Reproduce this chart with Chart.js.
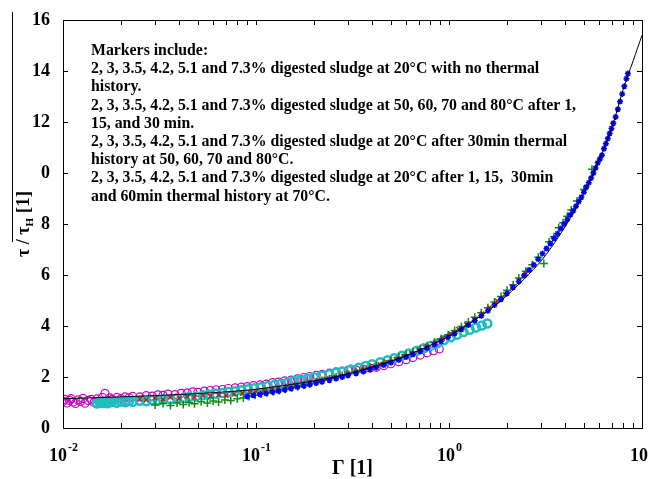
<!DOCTYPE html>
<html>
<head>
<meta charset="utf-8">
<script src="https://cdn.jsdelivr.net/npm/chart.js@4.4.0/dist/chart.umd.min.js"></script>
<style>
  html, body { margin: 0; padding: 0; background: #fff; }
  canvas { display: block; }
</style>
</head>
<body>
<canvas id="myChart" width="650" height="479"></canvas>
<script>
// fitted master curve
const fitGamma = [0.01, 0.02, 0.05, 0.1, 0.2, 0.3, 0.5, 0.7, 1, 1.5, 2, 3, 4, 5, 6, 7, 8, 9, 10];
const fitTau   = [1.15, 1.22, 1.35, 1.52, 1.85, 2.12, 2.62, 3.05, 3.6, 4.45, 5.2, 6.55, 7.9, 9.2, 10.5, 11.8, 13.3, 14.4, 15.4];

// 20°C, no thermal history (magenta circles)
const magGamma = [0.0100, 0.0102, 0.0105, 0.0108, 0.011, 0.0113, 0.0116, 0.012, 0.0123, 0.0127, 0.013, 0.0135, 0.014, 0.0145,
  0.015, 0.0155, 0.016, 0.0165, 0.017, 0.0175, 0.018, 0.019, 0.020, 0.021, 0.022, 0.023, 0.025, 0.027, 0.029, 0.031, 0.033,
  0.035, 0.038, 0.041, 0.044, 0.047, 0.050, 0.054, 0.058, 0.062, 0.067, 0.072, 0.078, 0.084, 0.090, 0.097, 0.105, 0.113,
  0.122, 0.131, 0.141, 0.152, 0.164, 0.177, 0.19, 0.205, 0.22, 0.24, 0.26, 0.28, 0.30, 0.33, 0.36, 0.39, 0.42, 0.46, 0.50,
  0.55, 0.60, 0.65, 0.71, 0.77, 0.83, 0.89];
const magTau = [1.05, 1.12, 0.98, 1.08, 1.15, 1.02, 0.96, 1.10, 1.04, 1.16, 0.97, 1.08, 1.12, 1.01,
  1.14, 1.05, 1.20, 1.36, 1.08, 1.18, 1.12, 1.20, 1.15, 1.22, 1.18, 1.24, 1.22, 1.27, 1.25, 1.30, 1.28,
  1.33, 1.31, 1.36, 1.38, 1.42, 1.40, 1.45, 1.47, 1.50, 1.51, 1.55, 1.57, 1.60, 1.62, 1.66, 1.69, 1.72,
  1.78, 1.80, 1.85, 1.88, 1.93, 1.98, 2.02, 2.06, 2.10, 2.15, 2.20, 2.22, 2.26, 2.27, 2.30, 2.35, 2.38, 2.45, 2.52,
  2.60, 2.68, 2.76, 2.86, 2.95, 3.03, 3.10];

// 20°C after 30 min thermal history (cyan circles)
const cyanGamma = [0.015, 0.0155, 0.016, 0.0165, 0.017, 0.0175, 0.018, 0.019, 0.020, 0.021, 0.022, 0.023, 0.025, 0.027,
  0.029, 0.031, 0.033, 0.036, 0.039, 0.042, 0.045, 0.049, 0.053, 0.057, 0.062, 0.067, 0.072, 0.078, 0.084, 0.091, 0.098,
  0.106, 0.115, 0.125, 0.135, 0.146, 0.158, 0.171, 0.185, 0.20, 0.22, 0.24, 0.26, 0.28, 0.31, 0.34, 0.37, 0.40, 0.44,
  0.48, 0.52, 0.57, 0.62, 0.68, 0.74, 0.80, 0.87, 0.94, 1.02, 1.10, 1.19, 1.28, 1.38, 1.48, 1.58];
const cyanTau = [0.96, 1.02, 0.98, 1.04, 0.97, 1.01, 1.03, 0.99, 1.04, 1.01, 1.06, 1.03, 1.07, 1.05,
  1.10, 1.08, 1.12, 1.13, 1.17, 1.18, 1.22, 1.24, 1.28, 1.30, 1.34, 1.37, 1.41, 1.44, 1.48, 1.52, 1.56,
  1.60, 1.65, 1.70, 1.74, 1.79, 1.84, 1.89, 1.94, 1.99, 2.05, 2.11, 2.17, 2.22, 2.29, 2.36, 2.43, 2.50, 2.58,
  2.66, 2.74, 2.83, 2.92, 3.03, 3.13, 3.22, 3.32, 3.44, 3.56, 3.66, 3.76, 3.85, 3.94, 4.02, 4.10];

// 50-80°C after 1, 15, 30 min (green plus)
const greenGamma = [0.030, 0.033, 0.036, 0.039, 0.042, 0.045, 0.048, 0.052, 0.056, 0.060, 0.064, 0.069, 0.074, 0.080,
  0.086, 0.092, 0.099, 0.106, 0.114, 0.123, 0.132, 0.142, 0.153, 0.165, 0.178, 0.19, 0.205, 0.22, 0.24, 0.26, 0.28,
  0.30, 0.33, 0.36, 0.39, 0.42, 0.46, 0.50, 0.55, 0.60, 0.65, 0.71, 0.77, 0.84, 0.91, 0.99, 1.07, 1.16, 1.26, 1.36,
  1.47, 1.59, 1.72, 1.86, 2.0, 2.15, 2.3, 2.5, 2.7, 2.9, 3.1, 3.3, 3.5, 3.7, 3.9, 4.1, 4.3, 4.6, 5.0, 5.5];
const greenTau = [0.90, 0.96, 0.88, 0.98, 0.92, 1.00, 0.95, 1.03, 0.98, 1.06, 1.02, 1.10, 1.08, 1.15,
  1.18, 1.24, 1.28, 1.33, 1.38, 1.42, 1.47, 1.52, 1.58, 1.63, 1.69, 1.75, 1.81, 1.86, 1.93, 2.00, 2.06,
  2.12, 2.22, 2.30, 2.38, 2.45, 2.55, 2.65, 2.77, 2.88, 2.98, 3.10, 3.22, 3.36, 3.50, 3.66, 3.82, 3.98, 4.16, 4.34,
  4.52, 4.72, 4.94, 5.16, 5.40, 5.62, 5.88, 6.15, 6.40, 6.70, 6.45, 7.30, 7.50, 7.85, 8.05, 8.30, 8.55, 8.90, 9.35, 10.15];

// 20°C after 1, 15, 30, 60 min at 70°C (dark red x)
const redGamma = [0.025, 0.027, 0.030, 0.033, 0.036, 0.040, 0.044, 0.048, 0.053, 0.058, 0.064, 0.070, 0.077, 0.085,
  0.093, 0.10, 0.11, 0.12, 0.13, 0.145, 0.16, 0.175, 0.19, 0.21, 0.23, 0.25, 0.275, 0.30, 0.33, 0.36, 0.40, 0.44,
  0.48, 0.53, 0.58, 0.64, 0.70, 0.77, 0.85, 0.93, 1.02, 1.12, 1.23, 1.35, 1.48, 1.62, 1.78, 1.95, 2.13, 2.32, 2.5];
const redTau = [1.14, 1.10, 1.17, 1.13, 1.20, 1.16, 1.23, 1.20, 1.27, 1.24, 1.30, 1.27, 1.33, 1.36,
  1.40, 1.43, 1.47, 1.52, 1.56, 1.62, 1.68, 1.74, 1.80, 1.86, 1.93, 1.99, 2.06, 2.13, 2.21, 2.29, 2.39, 2.49,
  2.58, 2.70, 2.81, 2.94, 3.06, 3.20, 3.36, 3.52, 3.69, 3.88, 4.06, 4.26, 4.48, 4.72, 4.98, 5.24, 5.52, 5.80, 6.05];

// blue stars
const blueGamma = [0.09, 0.097, 0.105, 0.113, 0.122, 0.131, 0.141, 0.152, 0.164, 0.177, 0.19, 0.205, 0.22, 0.24, 0.26,
  0.28, 0.30, 0.33, 0.36, 0.39, 0.42, 0.46, 0.50, 0.55, 0.60, 0.65, 0.71, 0.77, 0.84, 0.91, 0.99, 1.07, 1.16, 1.26,
  1.36, 1.47, 1.59, 1.72, 1.86, 2.0, 2.15, 2.3, 2.45, 2.6, 2.75, 2.9, 3.05, 3.2, 3.35, 3.5, 3.65, 3.8, 3.95, 4.1,
  4.25, 4.4, 4.55, 4.7, 4.85, 5.0, 5.15, 5.3, 5.45, 5.6, 5.75, 5.9, 6.05, 6.2, 6.35, 6.5, 6.65, 6.8, 6.95, 7.1,
  7.3, 7.5, 7.7, 7.9, 8.1, 8.3, 8.45];
const blueTau = [1.24, 1.28, 1.32, 1.36, 1.41, 1.45, 1.50, 1.55, 1.60, 1.65, 1.70, 1.76, 1.81, 1.87, 1.94,
  2.00, 2.06, 2.14, 2.22, 2.30, 2.37, 2.47, 2.56, 2.67, 2.78, 2.89, 3.01, 3.13, 3.27, 3.40, 3.56, 3.71, 3.87, 4.04,
  4.22, 4.40, 4.60, 4.82, 5.05, 5.28, 5.52, 5.75, 5.98, 6.20, 6.40, 6.62, 6.84, 7.04, 7.24, 7.44, 7.62, 7.82, 8.00, 8.18,
  8.36, 8.52, 8.70, 8.88, 9.05, 9.25, 9.45, 9.62, 9.80, 10.0, 10.2, 10.4, 10.55, 10.7, 10.95, 11.15, 11.35, 11.55, 11.75, 11.95,
  12.2, 12.5, 12.8, 13.1, 13.4, 13.7, 13.9];

const xTickValues = [0.01, 0.1, 1, 10];
const xTickExps = ['-2', '-1', '0', '1'];
const yTickLabels = ['0', '2', '4', '6', '8', '0', '12', '14', '16'];

const noteLines = [
  'Markers include:',
  '2, 3, 3.5, 4.2, 5.1 and 7.3% digested sludge at 20\u00B0C with no thermal',
  'history.',
  '2, 3, 3.5, 4.2, 5.1 and 7.3% digested sludge at 50, 60, 70 and 80\u00B0C after 1,',
  '15, and 30 min.',
  '2, 3, 3.5, 4.2, 5.1 and 7.3% digested sludge at 20\u00B0C after 30min thermal',
  'history at 50, 60, 70 and 80\u00B0C.',
  '2, 3, 3.5, 4.2, 5.1 and 7.3% digested sludge at 20\u00B0C after 1, 15,  30min',
  'and 60min thermal history at 70\u00B0C.'
];

const pts = (xs, ys) => xs.map((x, i) => ({ x: x, y: ys[i] }));
const SERIF = "'Liberation Serif', 'Times New Roman', serif";

const decor = {
  id: 'decor',
  afterDraw(chart) {
    const ctx = chart.ctx, a = chart.chartArea;
    const xs = chart.scales.x, ys = chart.scales.y;
    ctx.save();
    ctx.strokeStyle = '#000';
    ctx.lineWidth = 1;
    ctx.strokeRect(Math.round(a.left) + 0.5, Math.round(a.top) + 0.5, Math.round(a.right - a.left), Math.round(a.bottom - a.top));

    // inward ticks
    ctx.beginPath();
    yTickLabels.forEach((t, i) => {
      const y = Math.round(ys.getPixelForValue(i * 2)) + 0.5;
      ctx.moveTo(a.left, y); ctx.lineTo(a.left + 5, y);
      ctx.moveTo(a.right, y); ctx.lineTo(a.right - 5, y);
    });
    for (let d = -2; d <= 0; d++) {
      for (let m = 1; m <= 9; m++) {
        const x = Math.round(xs.getPixelForValue(m * Math.pow(10, d))) + 0.5;
        ctx.moveTo(x, a.bottom); ctx.lineTo(x, a.bottom - 5);
        ctx.moveTo(x, a.top); ctx.lineTo(x, a.top + 5);
      }
    }
    ctx.stroke();

    // x tick labels with superscripts
    ctx.fillStyle = '#000';
    ctx.textBaseline = 'alphabetic';
    xTickValues.forEach((v, i) => {
      const x = xs.getPixelForValue(v);
      ctx.font = 'bold 18px ' + SERIF;
      const wBase = ctx.measureText('10').width;
      ctx.font = 'bold 12px ' + SERIF;
      const wExp = ctx.measureText(xTickExps[i]).width;
      const left = x - (wBase + wExp) / 2;
      ctx.font = 'bold 18px ' + SERIF;
      ctx.textAlign = 'left';
      ctx.fillText('10', left, 461);
      ctx.font = 'bold 12px ' + SERIF;
      ctx.fillText(xTickExps[i], left + wBase + 1, 451);
    });

    // x title
    ctx.font = 'bold 20px ' + SERIF;
    ctx.textAlign = 'center';
    ctx.fillText('\u0393 [1]', (a.left + a.right) / 2, 474);

    // y title, rotated
    ctx.save();
    ctx.translate(29, 224);
    ctx.rotate(-Math.PI / 2);
    const parts = [['\u03C4 / \u03C4', 18, 0], ['H', 11, 4], [' [1]', 19, 0]];
    let total = 0;
    parts.forEach(p => { ctx.font = 'bold ' + p[1] + 'px ' + SERIF; total += ctx.measureText(p[0]).width; });
    let px = -total / 2;
    ctx.textAlign = 'left';
    parts.forEach(p => {
      ctx.font = 'bold ' + p[1] + 'px ' + SERIF;
      ctx.fillText(p[0], px, p[2]);
      px += ctx.measureText(p[0]).width;
    });
    ctx.restore();
    ctx.beginPath();
    ctx.moveTo(12.5, 12); ctx.lineTo(12.5, 242);
    ctx.stroke();

    // annotation
    ctx.font = 'bold 15.8px ' + SERIF;
    ctx.textAlign = 'left';
    noteLines.forEach((t, i) => {
      ctx.fillText(t, 91, 55 + i * 18.2);
    });
    ctx.restore();
  }
};

const ctx = document.getElementById('myChart');

new Chart(ctx, {
  type: 'scatter',
  data: {
    datasets: [
      {
        label: 'fit', data: pts(fitGamma, fitTau), showLine: true, borderColor: '#000', borderWidth: 1,
        pointRadius: 0, tension: 0.3, order: 0
      },
      {
        label: 'blue', data: pts(blueGamma, blueTau), pointStyle: 'star', pointRadius: 3,
        borderColor: '#0000ff', backgroundColor: '#0000ff', borderWidth: 1.5, order: 1
      },
      {
        label: 'red', data: pts(redGamma, redTau), pointStyle: 'crossRot', pointRadius: 3,
        borderColor: '#a02c14', borderWidth: 1.5, order: 2
      },
      {
        label: 'green', data: pts(greenGamma, greenTau), pointStyle: 'cross', pointRadius: 4,
        borderColor: '#128a12', borderWidth: 1.5, order: 3
      },
      {
        label: 'cyan', data: pts(cyanGamma, cyanTau), pointStyle: 'circle', pointRadius: 4,
        borderColor: '#1ebebe', backgroundColor: 'rgba(0,0,0,0)', borderWidth: 2.5, order: 4
      },
      {
        label: 'magenta', data: pts(magGamma, magTau), pointStyle: 'circle', pointRadius: 4,
        borderColor: '#c800c8', backgroundColor: 'rgba(0,0,0,0)', borderWidth: 1.2, order: 5
      }
    ]
  },
  options: {
    responsive: false,
    animation: false,
    devicePixelRatio: 1,
    layout: { padding: { top: 20, right: 8, left: 0, bottom: 0 } },
    plugins: { legend: { display: false }, tooltip: { enabled: false } },
    scales: {
      x: {
        type: 'logarithmic', min: 0.01, max: 10,
        grid: { display: false },
        border: { display: false },
        ticks: { display: false },
        afterFit: s => { s.height = 51; }
      },
      y: {
        type: 'linear', min: 0, max: 16,
        grid: { display: false },
        border: { display: false },
        ticks: {
          stepSize: 2, padding: 5, color: '#000',
          font: { family: SERIF, size: 18, weight: 'bold' },
          callback: (v) => yTickLabels[Math.round(v / 2)]
        },
        afterFit: s => { s.width = 63; }
      }
    }
  },
  plugins: [decor]
});
</script>
</body>
</html>
